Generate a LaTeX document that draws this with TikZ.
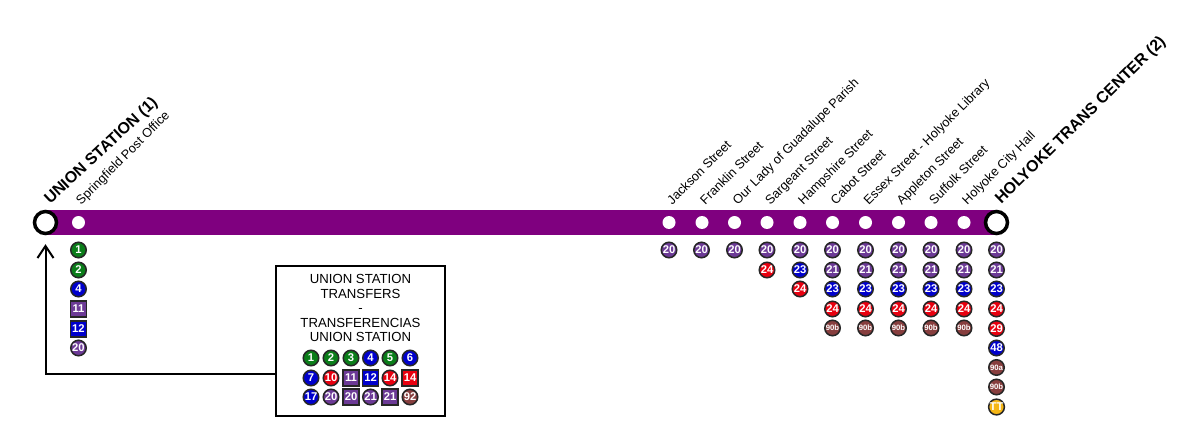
\documentclass[tikz,border=0pt]{standalone}
\usepackage{fontspec}
\setmainfont{Liberation Sans}
\usetikzlibrary{arrows.meta}
\definecolor{lineviolet}{RGB}{127,0,127}
\definecolor{busgreen}{RGB}{10,125,25}
\definecolor{busblue}{RGB}{0,0,204}
\definecolor{buspurple}{RGB}{108,58,150}
\definecolor{busred}{RGB}{232,0,15}
\definecolor{busbrown}{RGB}{135,62,62}
\definecolor{busyellow}{RGB}{245,182,22}
\tikzset{
	routeline/.style={line width=0.5cm, color=lineviolet},
	stopdot/.style={circle, fill=white, inner sep=0, minimum size=0.26cm},
	terminal/.style={circle, draw=black, fill=white, line width=0.07cm, inner sep=0, minimum size=0.44cm},
	stoplabel/.style={anchor=base west, rotate=45, inner sep=0, font=\fontsize{7.25}{8}\selectfont},
	termlabel/.style={anchor=base west, rotate=43, inner sep=0, font=\fontsize{9.1}{11}\selectfont\bfseries},
	busbase/.style={draw=black!85, line width=0.03cm, inner sep=0, text=white, font=\fontsize{6.4}{7}\selectfont\bfseries},
	bus/.style={busbase, circle, minimum size=0.31cm},
	bussq/.style={busbase, rectangle, minimum size=0.32cm},
	small/.style={font=\fontsize{4.4}{5}\selectfont\bfseries},
	gr/.style={fill=busgreen}, bl/.style={fill=busblue}, pu/.style={fill=buspurple},
	re/.style={fill=busred}, br/.style={fill=busbrown}, ye/.style={fill=busyellow},
	transferbox/.style={draw=black, line width=0.04cm, fill=white, minimum width=3.4cm, minimum height=3cm, inner sep=0},
	boxtext/.style={align=center, inner sep=0, anchor=north, font=\fontsize{7.5}{8.3}\selectfont},
	backarrow/.style={line width=0.04cm, -{Straight Barb[length=0.24cm, width=0.32cm]}},
}
\begin{document}
\begin{tikzpicture}[x=0.02cm, y=-0.02cm]
	%%%%% START %%%%%
	\useasboundingbox (0, 0) rectangle (1200, 446);

	\coordinate (linestart) at (45.5, 222.5);
	\coordinate (lineend) at (996.5, 222.5);
	\draw[routeline] (linestart) -- (lineend);

	\node[terminal] (union) at (45.5, 222.5) {};
	\node[terminal] (holyoke) at (996.5, 222.5) {};

	\node[stopdot] (s1) at (78.5, 222.5) {};
	\node[stopdot] (s2) at (669, 222.5) {};
	\node[stopdot] (s3) at (702, 222.5) {};
	\node[stopdot] (s4) at (734.5, 222.5) {};
	\node[stopdot] (s5) at (767, 222.5) {};
	\node[stopdot] (s6) at (800, 222.5) {};
	\node[stopdot] (s7) at (832.5, 222.5) {};
	\node[stopdot] (s8) at (865.5, 222.5) {};
	\node[stopdot] (s9) at (898.5, 222.5) {};
	\node[stopdot] (s10) at (931, 222.5) {};
	\node[stopdot] (s11) at (964, 222.5) {};

	\node[termlabel] (unionlabel) at (50, 205) {UNION STATION (1)};
	\node[termlabel, rotate=1.5] (holyokelabel) at (1001, 205) {HOLYOKE TRANS CENTER (2)};
	\node[stoplabel] (l1) at (81, 205.5) {Springfield Post Office};
	\node[stoplabel] (l2) at (672, 205.5) {Jackson Street};
	\node[stoplabel] (l3) at (705, 205.5) {Franklin Street};
	\node[stoplabel] (l4) at (737.5, 205.5) {Our Lady of Guadalupe Parish};
	\node[stoplabel] (l5) at (770, 205.5) {Sargeant Street};
	\node[stoplabel] (l6) at (803, 205.5) {Hampshire Street};
	\node[stoplabel] (l7) at (835.5, 205.5) {Cabot Street};
	\node[stoplabel] (l8) at (868.5, 205.5) {Essex Street - Holyoke Library};
	\node[stoplabel] (l9) at (901.5, 205.5) {Appleton Street};
	\node[stoplabel] (l10) at (934, 205.5) {Suffolk Street};
	\node[stoplabel] (l11) at (967, 205.5) {Holyoke City Hall};

	% Springfield Post Office
	\node[bus, gr] (a1) at (78.5, 250) {1};
	\node[bus, gr] (a2) at (78.5, 270) {2};
	\node[bus, bl] (a3) at (78.5, 289) {4};
	\node[bussq, pu] (a4) at (78.5, 309) {11};
	\node[bussq, bl] (a5) at (78.5, 329) {12};
	\node[bus, pu] (a6) at (78.5, 348) {20};

	% Holyoke stops
	\node[bus, pu] (b1) at (669, 250) {20};
	\node[bus, pu] (c1) at (701.5, 250) {20};
	\node[bus, pu] (d1) at (734.5, 250) {20};
	\node[bus, pu] (e1) at (767, 250) {20};
	\node[bus, re] (e2) at (767, 270) {24};
	\node[bus, pu] (f1) at (800, 250) {20};
	\node[bus, bl] (f2) at (800, 270) {23};
	\node[bus, re] (f3) at (800, 289) {24};

	\node[bus, pu] (g1) at (832.5, 250) {20};
	\node[bus, pu] (g2) at (832.5, 270) {21};
	\node[bus, bl] (g3) at (832.5, 289) {23};
	\node[bus, re] (g4) at (832.5, 309) {24};
	\node[bus, br, small] (g5) at (832.5, 328) {90b};

	\node[bus, pu] (h1) at (865.5, 250) {20};
	\node[bus, pu] (h2) at (865.5, 270) {21};
	\node[bus, bl] (h3) at (865.5, 289) {23};
	\node[bus, re] (h4) at (865.5, 309) {24};
	\node[bus, br, small] (h5) at (865.5, 328) {90b};

	\node[bus, pu] (i1) at (898.5, 250) {20};
	\node[bus, pu] (i2) at (898.5, 270) {21};
	\node[bus, bl] (i3) at (898.5, 289) {23};
	\node[bus, re] (i4) at (898.5, 309) {24};
	\node[bus, br, small] (i5) at (898.5, 328) {90b};

	\node[bus, pu] (j1) at (931, 250) {20};
	\node[bus, pu] (j2) at (931, 270) {21};
	\node[bus, bl] (j3) at (931, 289) {23};
	\node[bus, re] (j4) at (931, 309) {24};
	\node[bus, br, small] (j5) at (931, 328) {90b};

	\node[bus, pu] (k1) at (964, 250) {20};
	\node[bus, pu] (k2) at (964, 270) {21};
	\node[bus, bl] (k3) at (964, 289) {23};
	\node[bus, re] (k4) at (964, 309) {24};
	\node[bus, br, small] (k5) at (964, 328) {90b};

	\node[bus, pu] (m1) at (996.5, 250) {20};
	\node[bus, pu] (m2) at (996.5, 270) {21};
	\node[bus, bl] (m3) at (996.5, 289) {23};
	\node[bus, re] (m4) at (996.5, 309) {24};
	\node[bus, re] (m5) at (996.5, 328.5) {29};
	\node[bus, bl] (m6) at (996.5, 348) {48};
	\node[bus, br, small] (m7) at (996.5, 367.5) {90a};
	\node[bus, br, small] (m8) at (996.5, 387) {90b};
	\node[bus, ye] (m9) at (996.5, 407) {TT};

	% transfers box
	\node[transferbox] (transfers) at (360.5, 341) {};
	\node[boxtext] (transfertext) at (360.5, 274) {UNION STATION\\TRANSFERS\\-\\TRANSFERENCIAS\\UNION STATION};
	\coordinate (boxexit) at (275, 374);
	\draw[backarrow, shorten >=0.18cm] (boxexit) -| (union);

	\node[bus, gr] (t1) at (311, 358) {1};
	\node[bus, gr] (t2) at (331, 358) {2};
	\node[bus, gr] (t3) at (351, 358) {3};
	\node[bus, bl] (t4) at (370.5, 358) {4};
	\node[bus, gr] (t5) at (390, 358) {5};
	\node[bus, bl] (t6) at (410, 358) {6};

	\node[bus, bl] (t7) at (311, 378) {7};
	\node[bus, re] (t8) at (331, 378) {10};
	\node[bussq, pu] (t9) at (351, 378) {11};
	\node[bussq, bl] (t10) at (370.5, 378) {12};
	\node[bus, re] (t11) at (390, 378) {14};
	\node[bussq, re] (t12) at (410, 378) {14};

	\node[bus, bl] (t13) at (311, 397) {17};
	\node[bus, pu] (t14) at (331, 397) {20};
	\node[bussq, pu] (t15) at (351, 397) {20};
	\node[bus, pu] (t16) at (370.5, 397) {21};
	\node[bussq, pu] (t17) at (390, 397) {21};
	\node[bus, br] (t18) at (410, 397) {92};
	%%%%% END %%%%%
\end{tikzpicture}
\end{document}
